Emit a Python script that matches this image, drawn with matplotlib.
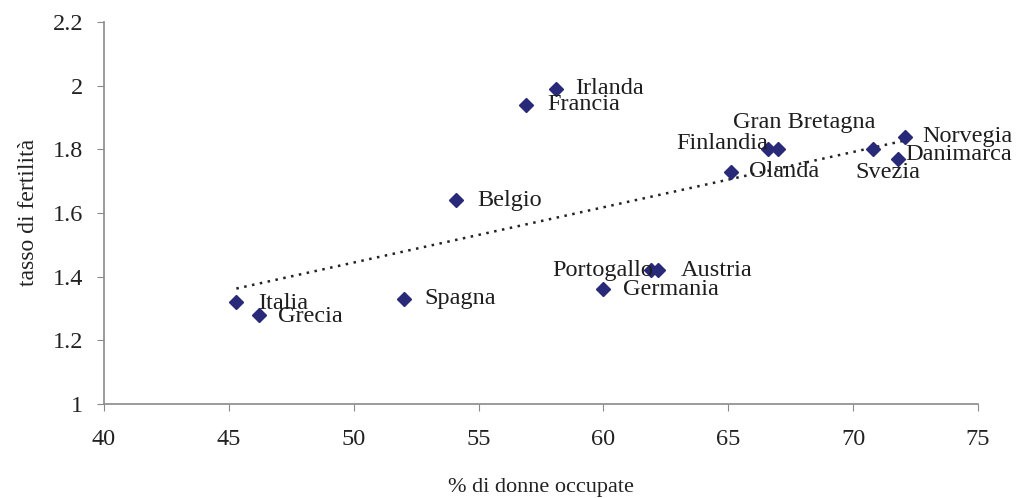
import numpy as np
import matplotlib.pyplot as plt
from matplotlib.ticker import FuncFormatter

# dati
paesi = ["Italia", "Grecia", "Spagna", "Belgio", "Francia", "Irlanda",
         "Germania", "Portogallo", "Austria", "Olanda", "Finlandia",
         "Gran Bretagna", "Danimarca", "Svezia", "Norvegia"]
donne_occupate = [45.3, 46.2, 52.0, 54.1, 56.9, 58.1,
                  60.0, 61.9, 62.2, 65.1, 66.6,
                  67.0, 70.8, 71.8, 72.1]
fertilita = [1.32, 1.28, 1.33, 1.64, 1.94, 1.99,
             1.36, 1.42, 1.42, 1.73, 1.80,
             1.80, 1.80, 1.77, 1.84]

# posizione etichette (offset in punti, allineamento)
offset = {
    "Italia": (16, -1, "left"), "Grecia": (14, -1, "left"),
    "Spagna": (15, 0, "left"), "Belgio": (15, 0, "left"),
    "Francia": (15, 0, "left"), "Irlanda": (14, 0, "left"),
    "Germania": (14, 0, "left"), "Portogallo": (2, 0, "right"),
    "Austria": (16, 0, "left"), "Olanda": (13, 0, "left"),
    "Finlandia": (0, 4, "right"), "Gran Bretagna": (19, 19, "center"),
    "Danimarca": (23, -4, "left"), "Svezia": (-7, -10, "center"),
    "Norvegia": (12, 0, "left"),
}

plt.rcParams['font.family'] = ['Liberation Serif', 'DejaVu Serif']

fig = plt.figure(figsize=(10.22, 4.98), dpi=100)
ax = fig.add_axes([0.1018, 0.189, 0.855, 0.767])

x = np.array(donne_occupate)
y = np.array(fertilita)

# linea di tendenza (regressione lineare)
m, q = np.polyfit(x, y, 1)
xt = np.array([x.min(), x.max()])
ax.plot(xt, m * xt + q, linestyle=(0, (1, 2.2)), color='#222222', lw=1.8, zorder=1)

ax.plot(x, y, 'D', color='#29297a', markersize=7, zorder=3)

for p, xi, yi in zip(paesi, x, y):
    dx, dy, ha = offset[p]
    ax.annotate(p, (xi, yi), xytext=(dx, dy), textcoords='offset points',
                ha=ha, va='center', fontsize=17.5, color='#1e1e1e', zorder=4)

ax.set_xlim(40, 75)
ax.set_ylim(1, 2.2)
ax.set_xticks(np.arange(40, 76, 5))
ax.set_yticks(np.arange(1, 2.21, 0.2))
ax.yaxis.set_major_formatter(FuncFormatter(lambda v, _: f"{v:g}"))

for s in ['top', 'right']:
    ax.spines[s].set_visible(False)
for s in ['left', 'bottom']:
    ax.spines[s].set_color('#8a8a8a')
    ax.spines[s].set_linewidth(1.2)
ax.tick_params(direction='out', length=5, color='#8a8a8a', labelsize=17.5,
               labelcolor='#222222')
ax.tick_params(axis='x', pad=13)
ax.tick_params(axis='y', pad=10)

ax.set_xlabel("% di donne occupate", fontsize=16, color='#222222', labelpad=20)
ax.set_ylabel("tasso di fertilità", fontsize=17, color='#222222', labelpad=10)

fig.savefig("out.png", dpi=100)
